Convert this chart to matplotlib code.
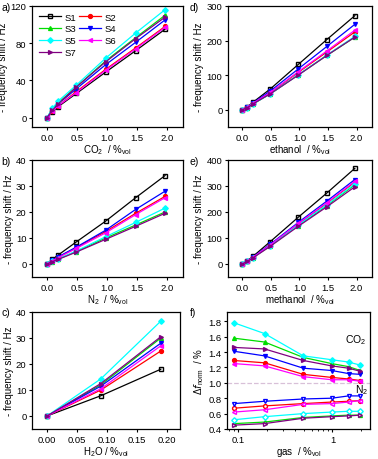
import numpy as np
import matplotlib.pyplot as plt

plt.rcParams['font.family'] = ['Liberation Sans', 'DejaVu Sans']
plt.rcParams['font.size'] = 6.8
plt.rcParams['axes.labelsize'] = 7
plt.rcParams['mathtext.default'] = 'regular'

#%%
# data

names = ['S1', 'S2', 'S3', 'S4', 'S5', 'S6', 'S7']
colors = ['black', 'red', '#00dd00', 'blue', 'cyan', 'magenta', '#800080']
markers = ['s', 'o', '^', 'v', 'D', '<', '>']

conc = [0, 0.09, 0.19, 0.49, 0.98, 1.48, 1.97]
conc_h2o = [0, 0.09, 0.19]

co2 = [[0, 6, 12, 26, 49, 72, 95],
       [0, 7, 13, 28, 52, 75, 98],
       [0, 9, 16, 33, 61, 86, 110],
       [0, 8, 15, 31, 57, 81, 105],
       [0, 10, 18, 35, 64, 91, 116],
       [0, 7, 13, 27, 51, 74, 97],
       [0, 8, 15, 33, 60, 85, 108]]

n2 = [[0, 1.8, 3.5, 8.5, 16.5, 25.5, 34],
      [0, 1.3, 2.6, 6.3, 12.5, 19.5, 26],
      [0, 0.9, 1.9, 4.8, 10, 15, 20],
      [0, 1.4, 2.8, 6.5, 13, 21, 28],
      [0, 1.0, 2.0, 5.0, 10.5, 16, 21.5],
      [0, 1.2, 2.5, 6.0, 12, 19, 25.5],
      [0, 0.9, 1.8, 4.6, 9.5, 14.5, 19.5]]

h2o = [[0, 7.8, 18],
       [0, 10, 25],
       [0, 12, 30],
       [0, 11.5, 28],
       [0, 14.3, 36.5],
       [0, 10.5, 27],
       [0, 12.5, 30.5]]

ethanol = [[0, 8, 22, 60, 131, 203, 272],
           [0, 7, 19, 49, 108, 167, 225],
           [0, 6, 17, 46, 101, 157, 210],
           [0, 7, 20, 54, 118, 183, 247],
           [0, 6, 17, 46, 101, 158, 212],
           [0, 7, 19, 50, 110, 170, 230],
           [0, 6, 17, 46, 100, 157, 210]]

methanol = [[0, 12, 30, 86, 180, 273, 368],
            [0, 11, 26, 73, 154, 234, 315],
            [0, 10, 25, 70, 148, 225, 305],
            [0, 11, 27, 76, 160, 242, 325],
            [0, 10, 25, 71, 150, 228, 308],
            [0, 11, 26, 74, 156, 236, 318],
            [0, 10, 24, 68, 145, 220, 297]]

# panel f: normalised shift vs gas concentration (S2..S7)
gas = [0.09, 0.19, 0.49, 0.98, 1.48, 1.97]
f_idx = [1, 2, 3, 4, 5, 6]
f_co2 = [[1.29, 1.26, 1.11, 1.07, 1.05, 1.03],
         [1.58, 1.53, 1.33, 1.25, 1.21, 1.16],
         [1.41, 1.35, 1.19, 1.16, 1.12, 1.11],
         [1.78, 1.64, 1.35, 1.30, 1.27, 1.23],
         [1.25, 1.22, 1.08, 1.04, 1.04, 1.02],
         [1.46, 1.44, 1.29, 1.22, 1.19, 1.15]]
f_n2 = [[0.67, 0.70, 0.73, 0.75, 0.76, 0.77],
        [0.47, 0.49, 0.55, 0.57, 0.58, 0.58],
        [0.73, 0.76, 0.79, 0.80, 0.83, 0.83],
        [0.52, 0.56, 0.60, 0.62, 0.63, 0.63],
        [0.62, 0.65, 0.72, 0.73, 0.75, 0.77],
        [0.45, 0.47, 0.54, 0.56, 0.57, 0.58]]

#%%
fig = plt.figure(figsize=(3.78, 4.60), dpi=100)

def px_axes(l, t, r, b):
    return fig.add_axes([l/378, (460-b)/460, (r-l)/378, (b-t)/460])

ax_a = px_axes(32, 7, 183, 128)
ax_b = px_axes(32, 161, 183, 278)
ax_c = px_axes(32, 313, 180, 430)
ax_d = px_axes(228, 7, 372, 128)
ax_e = px_axes(228, 161, 372, 278)
ax_f = px_axes(227, 313, 370, 430)

def plot_set(ax, x, data):
    hs = []
    for i in range(7):
        fc = 'none' if i == 0 else colors[i]
        h, = ax.plot(x, data[i], color=colors[i], marker=markers[i], ms=2.8,
                     mfc=fc, mec=colors[i], lw=0.9, label=names[i])
        hs.append(h)
    return hs

def style(ax):
    ax.tick_params(direction='out', length=2.5, width=0.8, pad=1.5)
    for s in ax.spines.values():
        s.set_linewidth(0.9)

hs = plot_set(ax_a, conc, co2)
plot_set(ax_b, conc, n2)
plot_set(ax_c, conc_h2o, h2o)
plot_set(ax_d, conc, ethanol)
plot_set(ax_e, conc, methanol)

for ax in [ax_a, ax_b, ax_d, ax_e]:
    ax.set_xlim(-0.25, 2.27)
    ax.set_xticks([0, 0.5, 1.0, 1.5, 2.0])
    ax.set_ylabel('- frequency shift / Hz', labelpad=1.5)
    style(ax)

ax_a.set_ylim(-10, 120); ax_a.set_yticks([0, 40, 80, 120])
ax_b.set_ylim(-5, 40); ax_b.set_yticks([0, 10, 20, 30, 40])
ax_d.set_ylim(-50, 300); ax_d.set_yticks([0, 100, 200, 300])
ax_e.set_ylim(-50, 400); ax_e.set_yticks([0, 100, 200, 300, 400])

ax_a.set_xlabel(r'CO$_2$  / %$_{vol}$', labelpad=0.5)
ax_b.set_xlabel(r'N$_2$  / %$_{vol}$', labelpad=0.5)
ax_d.set_xlabel(r'ethanol  / %$_{vol}$', labelpad=0.5)
ax_e.set_xlabel(r'methanol  / %$_{vol}$', labelpad=0.5)

ax_c.set_xlim(-0.025, 0.222)
ax_c.set_xticks([0, 0.05, 0.10, 0.15, 0.20])
ax_c.set_xticklabels(['0.00', '0.05', '0.10', '0.15', '0.20'])
ax_c.set_ylim(-5, 40); ax_c.set_yticks([0, 10, 20, 30, 40])
ax_c.set_ylabel('- frequency shift / Hz', labelpad=1.5)
ax_c.set_xlabel(r'H$_2$O / %$_{vol}$', labelpad=0.3)
style(ax_c)

order = [0, 2, 4, 6, 1, 3, 5]
ax_a.legend([hs[i] for i in order], [names[i] for i in order], ncol=2,
            loc='upper left', frameon=False, fontsize=6.8, handlelength=2.4,
            handletextpad=0.3, columnspacing=0.3, labelspacing=0.3,
            borderaxespad=0.3)

# panel f
ax_f.axhline(1.0, color='#d8c0d8', lw=0.9, ls='--')
for k, i in enumerate(f_idx):
    ax_f.plot(gas, f_co2[k], color=colors[i], marker=markers[i], ms=2.8,
              mfc=colors[i], lw=0.9)
    ax_f.plot(gas, f_n2[k], color=colors[i], marker=markers[i], ms=2.8,
              mfc='white', lw=0.9)
ax_f.set_xscale('log')
ax_f.set_xlim(0.076, 2.5)
ax_f.set_ylim(0.4, 1.92)
ax_f.set_yticks([0.4, 0.6, 0.8, 1.0, 1.2, 1.4, 1.6, 1.8])
ax_f.set_xticks([0.1, 1])
ax_f.set_xticklabels(['0.1', '1'])
ax_f.set_ylabel(r'$\Delta$$\it{f}$$_{norm}$  / %', labelpad=1.5)
ax_f.set_xlabel(r'gas  / %$_{vol}$', labelpad=0.3)
style(ax_f)
ax_f.tick_params(which='minor', direction='out', length=1.5, width=0.6)
ax_f.text(0.90, 0.765, r'CO$_2$', transform=ax_f.transAxes, fontsize=7.5, ha='center', va='center')
ax_f.text(0.94, 0.34, r'N$_2$', transform=ax_f.transAxes, fontsize=7.5, ha='center', va='center')

for lab, x, y in [('a)', 1, 8), ('b)', 1, 162), ('c)', 1, 313),
                  ('d)', 190, 8), ('e)', 190, 162), ('f)', 190, 313)]:
    fig.text(x/378, 1 - y/460, lab, fontsize=7.5, ha='left', va='center')

plt.savefig('out.png', dpi=100)
